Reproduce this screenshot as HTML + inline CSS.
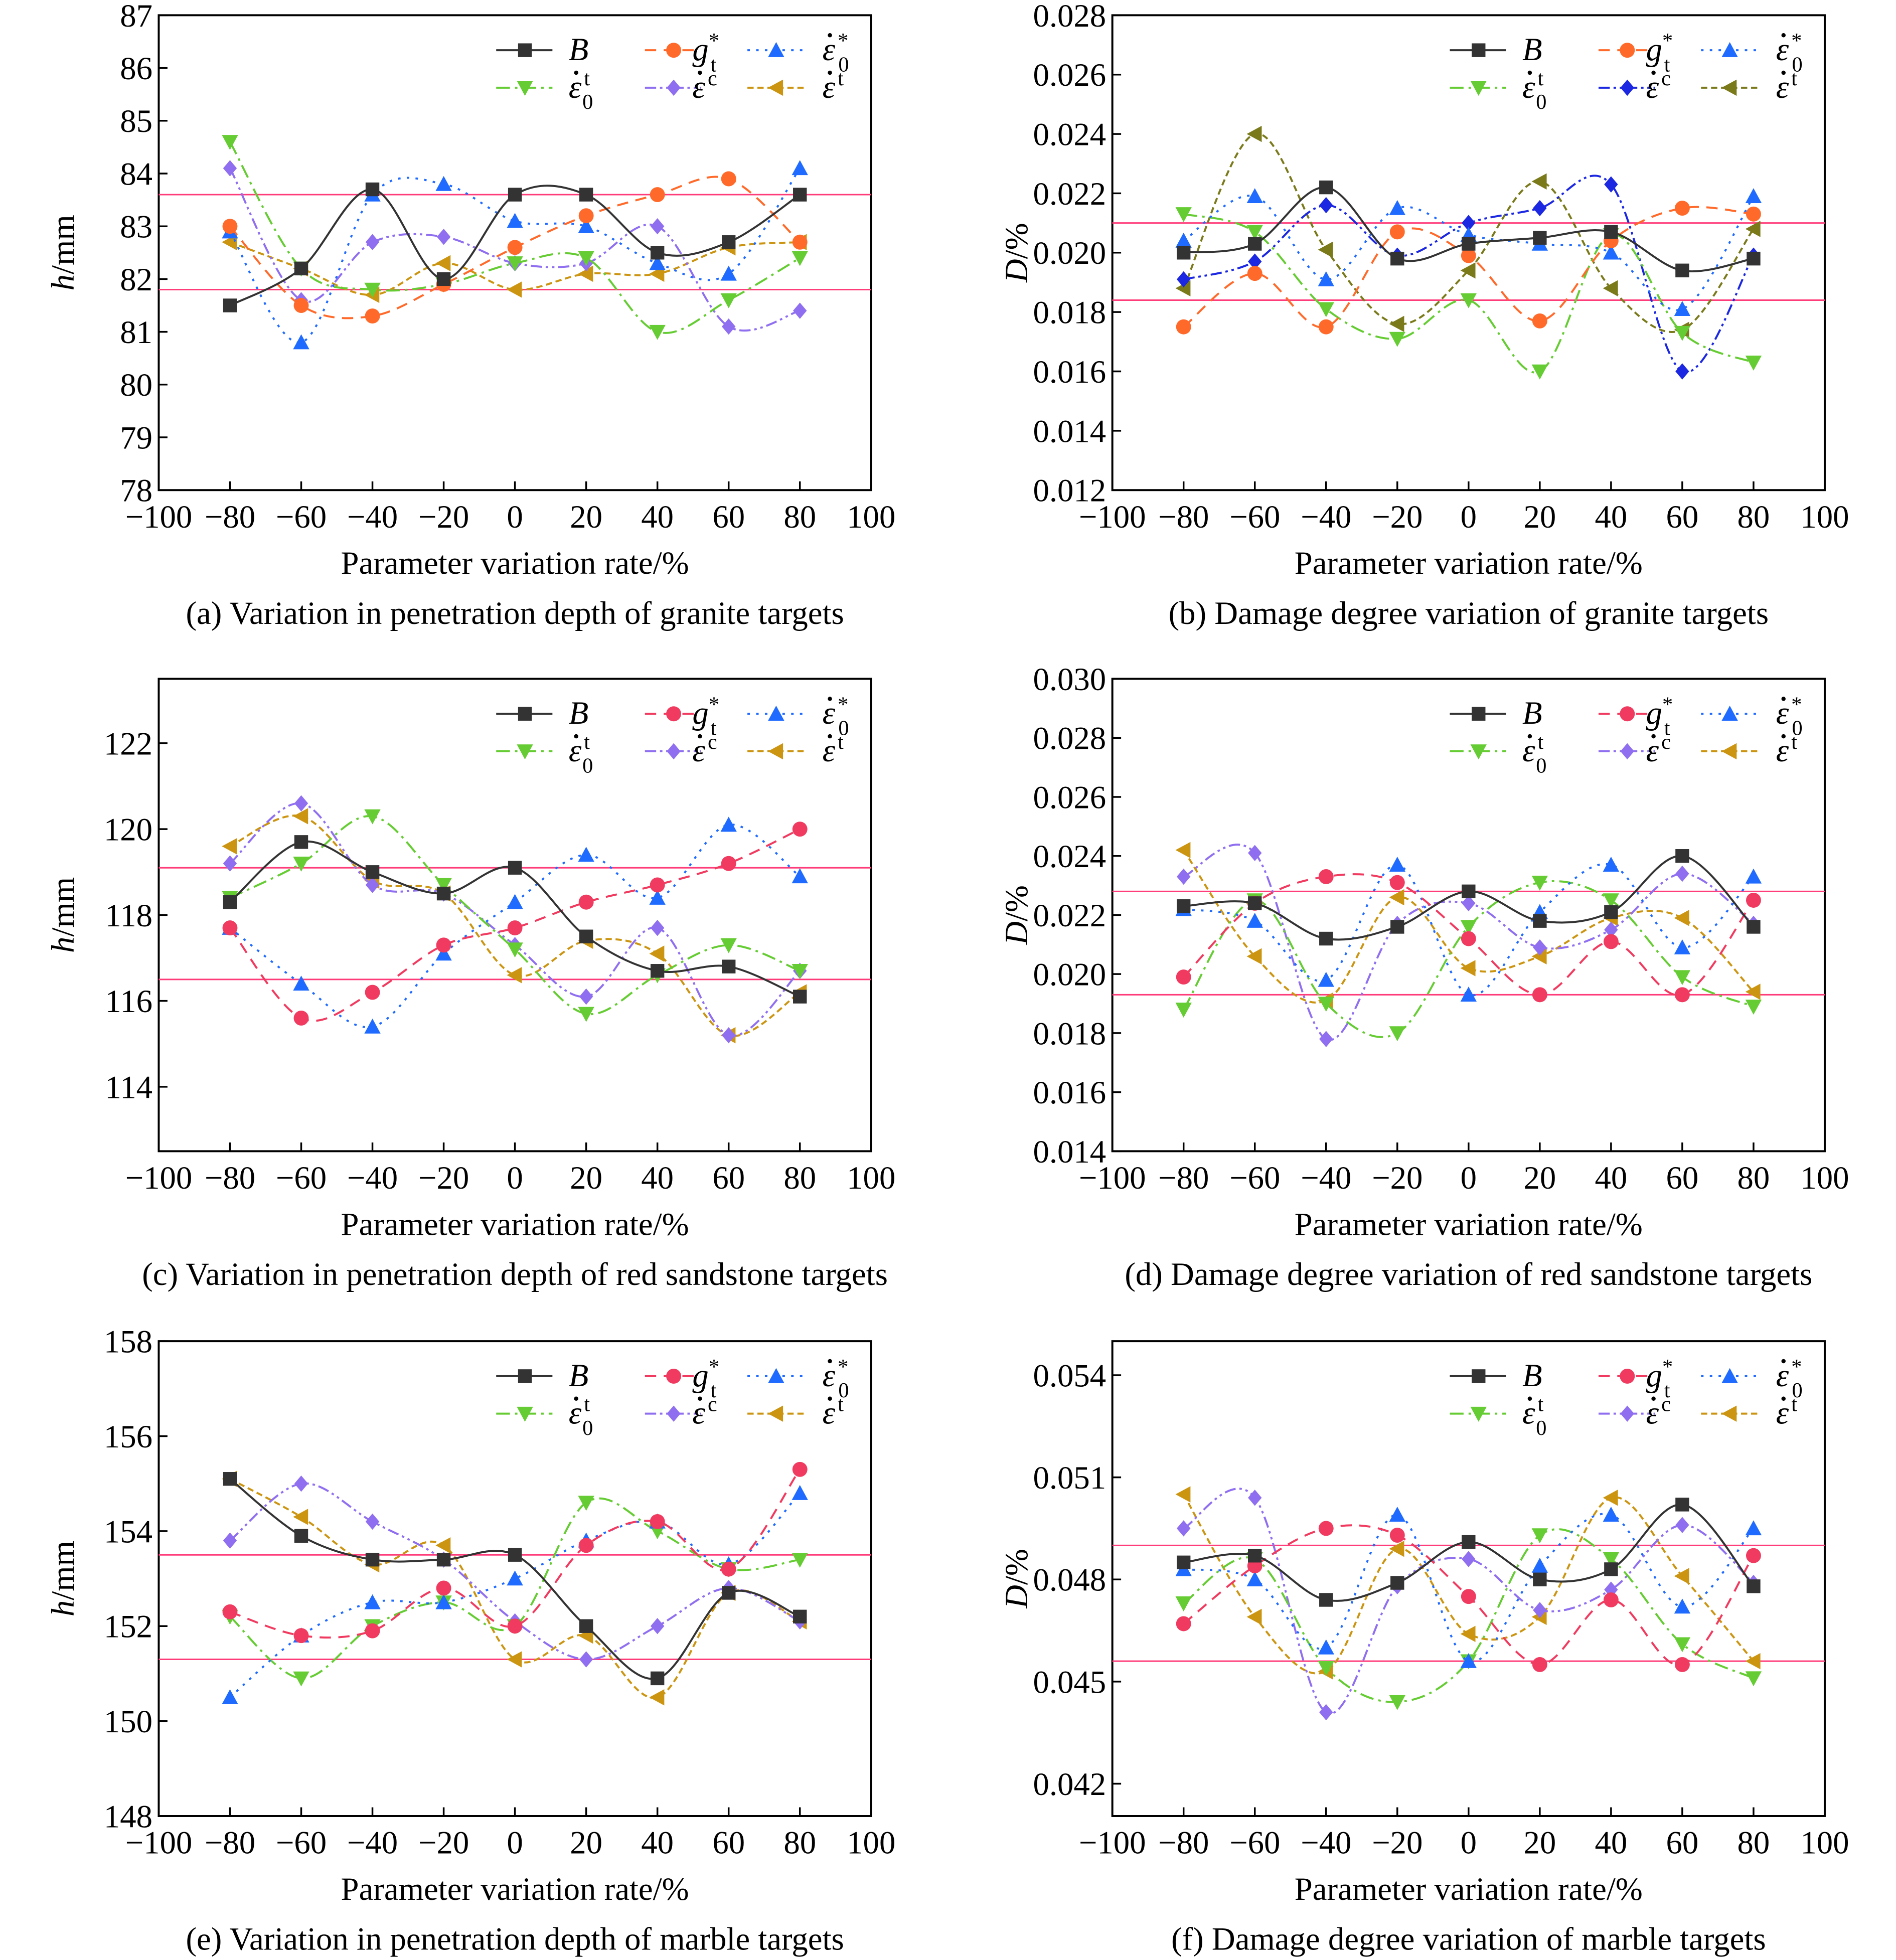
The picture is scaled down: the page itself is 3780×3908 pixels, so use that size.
<!DOCTYPE html>
<html><head><meta charset="utf-8"><style>
html,body{margin:0;padding:0;background:#fff}
svg{display:block}
</style></head><body>
<svg id="s" xmlns="http://www.w3.org/2000/svg" width="3780" height="3908" viewBox="0 0 1517 1568" font-family="'Liberation Serif','Times New Roman',serif"></svg>
<script>
const S=document.getElementById('s');let h='';
const X=[-80,-60,-40,-20,0,20,40,60,80];
const panels=[
{x0:127,y0:12,y1:392,min:78,max:87,ticks:[78,79,80,81,82,83,84,85,86,87],yl:'h',unit:'/mm',pink:[83.6,81.8],red:false,b:false,
cap:'(a) Variation in penetration depth of granite targets',d:[
[81.5,82.2,83.7,82.0,83.6,83.6,82.5,82.7,83.6],
[83.0,81.5,81.3,81.9,82.6,83.2,83.6,83.9,82.7],
[82.9,80.8,83.6,83.8,83.1,83.0,82.3,82.1,84.1],
[84.6,82.2,81.8,81.9,82.3,82.4,81.0,81.6,82.4],
[84.1,81.6,82.7,82.8,82.3,82.3,83.0,81.1,81.4],
[82.7,82.2,81.7,82.3,81.8,82.1,82.1,82.6,82.7]]},
{x0:890,y0:12,y1:392,min:12,max:28,ticks:[12,14,16,18,20,22,24,26,28],sc:1000,yl:'D',unit:'/%',pink:[21.0,18.4],red:false,b:true,
cap:'(b) Damage degree variation of granite targets',d:[
[20.0,20.3,22.2,19.8,20.3,20.5,20.7,19.4,19.8],
[17.5,19.3,17.5,20.7,19.9,17.7,20.4,21.5,21.3],
[20.4,21.9,19.1,21.5,20.6,20.3,20.0,18.1,21.9],
[21.3,20.7,18.1,17.1,18.4,16.0,20.6,17.3,16.3],
[19.1,19.7,21.6,19.9,21.0,21.5,22.3,16.0,19.9],
[18.8,24.0,20.1,17.6,19.4,22.4,18.8,17.4,20.8]]},
{x0:127,y0:543,y1:921,min:112.5,max:123.5,ticks:[114,116,118,120,122],yl:'h',unit:'/mm',pink:[119.1,116.5],red:true,b:false,
cap:'(c) Variation in penetration depth of red sandstone targets',d:[
[118.3,119.7,119.0,118.5,119.1,117.5,116.7,116.8,116.1],
[117.7,115.6,116.2,117.3,117.7,118.3,118.7,119.2,120.0],
[117.7,116.4,115.4,117.1,118.3,119.4,118.4,120.1,118.9],
[118.4,119.2,120.3,118.7,117.2,115.7,116.6,117.3,116.7],
[119.2,120.6,118.7,118.5,117.3,116.1,117.7,115.2,116.7],
[119.6,120.3,118.8,118.5,116.6,117.4,117.1,115.2,116.2]]},
{x0:890,y0:543,y1:921,min:14,max:30,ticks:[14,16,18,20,22,24,26,28,30],sc:1000,yl:'D',unit:'/%',pink:[22.8,19.3],red:true,b:false,
cap:'(d) Damage degree variation of red sandstone targets',d:[
[22.3,22.4,21.2,21.6,22.8,21.8,22.1,24.0,21.6],
[19.9,22.4,23.3,23.1,21.2,19.3,21.1,19.3,22.5],
[22.2,21.8,19.8,23.7,19.3,22.1,23.7,20.9,23.3],
[18.8,22.5,19.0,18.0,21.6,23.1,22.5,19.9,18.9],
[23.3,24.1,17.8,21.7,22.4,20.9,21.5,23.4,21.7],
[24.2,20.6,19.1,22.6,20.2,20.6,21.9,21.9,19.4]]},
{x0:127,y0:1073,y1:1453,min:148,max:158,ticks:[148,150,152,154,156,158],yl:'h',unit:'/mm',pink:[153.5,151.3],red:true,b:false,
cap:'(e) Variation in penetration depth of marble targets',d:[
[155.1,153.9,153.4,153.4,153.5,152.0,150.9,152.7,152.2],
[152.3,151.8,151.9,152.8,152.0,153.7,154.2,153.2,155.3],
[150.5,151.8,152.5,152.5,153.0,153.8,154.2,153.3,154.8],
[152.2,150.9,152.0,152.5,152.0,154.6,154.0,153.2,153.4],
[153.8,155.0,154.2,153.4,152.1,151.3,152.0,152.8,152.1],
[155.1,154.3,153.3,153.7,151.3,151.8,150.5,152.7,152.1]]},
{x0:890,y0:1073,y1:1453,min:41.05,max:55.0,ticks:[42,45,48,51,54],sc:1000,yl:'D',unit:'/%',pink:[49.0,45.6],red:true,b:false,
cap:'(f) Damage degree variation of marble targets',d:[
[48.5,48.7,47.4,47.9,49.1,48.0,48.3,50.2,47.8],
[46.7,48.4,49.5,49.3,47.5,45.5,47.4,45.5,48.7],
[48.3,48.0,46.0,49.9,45.6,48.4,49.9,47.2,49.5],
[47.3,48.6,45.4,44.4,45.6,49.3,48.6,46.1,45.1],
[49.5,50.4,44.1,47.8,48.6,47.1,47.7,49.6,47.9],
[50.5,46.9,45.3,48.9,46.4,46.9,50.4,48.1,45.6]]}
];
function spline(p){let s='M'+p[0][0]+','+p[0][1];for(let i=0;i<p.length-1;i++){const a=p[i-1]||p[i],b=p[i],c=p[i+1],d=p[i+2]||c;
s+=' C'+(b[0]+(c[0]-a[0])/6).toFixed(1)+','+(b[1]+(c[1]-a[1])/6).toFixed(1)+' '+(c[0]-(d[0]-b[0])/6).toFixed(1)+','+(c[1]-(d[1]-b[1])/6).toFixed(1)+' '+c[0]+','+c[1].toFixed(1);}return s;}
function marker(t,x,y,c){const r=5.5;
if(t==0)return `<rect x="${x-r}" y="${y-r}" width="${2*r}" height="${2*r}" fill="${c}"/>`;
if(t==1)return `<circle cx="${x}" cy="${y}" r="${r+0.5}" fill="${c}"/>`;
if(t==2)return `<polygon points="${x},${y-r-1} ${x+r+1},${y+r} ${x-r-1},${y+r}" fill="${c}"/>`;
if(t==3)return `<polygon points="${x},${y+r+1} ${x+r+1},${y-r} ${x-r-1},${y-r}" fill="${c}"/>`;
if(t==4)return `<polygon points="${x},${y-r-1} ${x+r},${y} ${x},${y+r+1} ${x-r},${y}" fill="${c}"/>`;
return `<polygon points="${x-r-1},${y} ${x+r},${y-r-1} ${x+r},${y+r+1}" fill="${c}"/>`;}
const dash=['', '9,6','2,5','11,4,2,4','9,3,2,3,2,3','5,3'];
const sub='font-size="17"';
const lbl=['<tspan font-style="italic">B</tspan>',
`<tspan font-style="italic">g</tspan><tspan dy="-10" ${sub}>*</tspan><tspan dy="19" dx="-7" ${sub}>t</tspan>`,
`<tspan font-style="italic">ε</tspan><tspan dy="-10" dx="2" ${sub}>*</tspan><tspan dy="19" dx="-8" ${sub}>0</tspan>`,
`<tspan font-style="italic">ε</tspan><tspan dy="-10" dx="2" ${sub}>t</tspan><tspan dy="19" dx="-6" ${sub}>0</tspan>`,
`<tspan font-style="italic">ε</tspan><tspan dy="-10" dx="2" ${sub}>c</tspan>`,
`<tspan font-style="italic">ε</tspan><tspan dy="-10" dx="2" ${sub}>t</tspan>`];
for(const P of panels){
 const cols=['#333333',P.red?'#f03a5f':'#ff6a2a','#1f6bff','#66cc33',P.b?'#1b27e0':'#8f6ff0',P.b?'#7a7a1a':'#cc9511'];
 const x0=P.x0,x1=x0+570,y0=P.y0,y1=P.y1;
 const sx=v=>x0+(v+100)*2.85, sy=v=>y1-(v-P.min)/(P.max-P.min)*(y1-y0);
 h+=`<rect x="${x0}" y="${y0}" width="570" height="${y1-y0}" fill="none" stroke="#000" stroke-width="1.6"/>`;
 for(const t of P.ticks){const y=sy(t);h+=`<line x1="${x0}" x2="${x0+7}" y1="${y}" y2="${y}" stroke="#000" stroke-width="1.4"/>`;
  h+=`<text x="${x0-5}" y="${y+9}" font-size="26" text-anchor="end">${P.sc?(t/P.sc).toFixed(3):t}</text>`;}
 for(let v=-100;v<=100;v+=20){const x=sx(v);if(v>-100&&v<100)h+=`<line x1="${x}" x2="${x}" y1="${y1}" y2="${y1-7}" stroke="#000" stroke-width="1.4"/>`;
  h+=`<text x="${x}" y="${y1+30}" font-size="26" text-anchor="middle">${v<0?'−'+(-v):v}</text>`;}
 for(const p of P.pink)h+=`<line x1="${x0}" x2="${x1}" y1="${sy(p)}" y2="${sy(p)}" stroke="#ff3c7a" stroke-width="1.2"/>`;
 for(let k=5;k>=0;k--){const pts=X.map((v,i)=>[sx(v),sy(P.d[k][i])]);
  h+=`<path d="${spline(pts)}" fill="none" stroke="${cols[k]}" stroke-width="1.6" ${dash[k]?`stroke-dasharray="${dash[k]}"`:''}/>`;
  for(const q of pts)h+=marker(k,q[0],q[1],cols[k]);}
 const lx=[x0+270,x0+389,x0+471],tx=[x0+328,x0+427,x0+531];
 for(let k=0;k<6;k++){const r=k<3?0:1,c=k%3,y=y0+28+r*30;
  h+=`<line x1="${lx[c]}" x2="${lx[c]+45}" y1="${y}" y2="${y}" stroke="${cols[k]}" stroke-width="1.6" ${dash[k]?`stroke-dasharray="${dash[k]}"`:''}/>`;
  h+=marker(k,lx[c]+23,y,cols[k]);
  h+=`<text x="${tx[c]}" y="${y+8}" font-size="26">${lbl[k]}</text>`;
  if(k>=2)h+=`<circle cx="${tx[c]+6}" cy="${y-12}" r="1.7" fill="#000"/>`;}
 const cy=(y0+y1)/2;
 h+=`<text transform="translate(${x0-68},${cy}) rotate(-90)" font-size="26" text-anchor="middle"><tspan font-style="italic">${P.yl}</tspan>${P.unit}</text>`;
 h+=`<text x="${x0+285}" y="${y1+67}" font-size="26" text-anchor="middle">Parameter variation rate/%</text>`;
 h+=`<text x="${x0+285}" y="${y1+107}" font-size="26" text-anchor="middle">${P.cap}</text>`;
}
S.innerHTML=h;
</script>
</body></html>
